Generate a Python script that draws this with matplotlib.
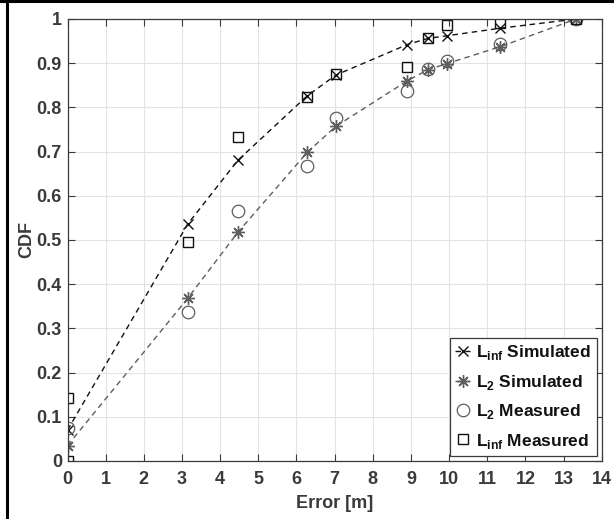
import matplotlib

matplotlib.use("Agg")
import matplotlib.pyplot as plt
from matplotlib.lines import Line2D

plt.rcParams["font.family"] = ["Liberation Sans", "DejaVu Sans"]
plt.rcParams["font.weight"] = "bold"
plt.rcParams["mathtext.fontset"] = "custom"
plt.rcParams["mathtext.rm"] = "Liberation Sans:bold"
plt.rcParams["mathtext.bf"] = "Liberation Sans:bold"

# error values (m) at which each CDF was sampled
err_sim = [0, 3.15, 4.46, 6.28, 7.03, 8.90, 9.44, 9.94, 11.33, 13.33]
cdf_linf_sim = [0.070, 0.536, 0.680, 0.826, 0.873, 0.942, 0.956, 0.962, 0.979, 1.0]
cdf_l2_sim = [0.035, 0.368, 0.517, 0.698, 0.757, 0.860, 0.885, 0.899, 0.937, 1.0]

err_l2_meas = [0, 3.15, 4.46, 6.28, 7.03, 8.90, 9.44, 9.94, 11.33, 13.33]
cdf_l2_meas = [0.075, 0.336, 0.566, 0.667, 0.775, 0.836, 0.886, 0.906, 0.943, 1.0]

err_linf_meas = [0, 0, 3.15, 4.46, 6.28, 7.03, 8.90, 9.44, 9.94, 11.33, 13.33]
cdf_linf_meas = [0.0, 0.142, 0.495, 0.732, 0.824, 0.875, 0.892, 0.956, 0.986, 0.992, 1.0]

x_ticks = list(range(0, 15))
y_ticks = [0, 0.1, 0.2, 0.3, 0.4, 0.5, 0.6, 0.7, 0.8, 0.9, 1]
y_tick_labels = ["0", "0.1", "0.2", "0.3", "0.4", "0.5", "0.6", "0.7", "0.8", "0.9", "1"]

DARK = "#111111"
GRAY = "#5e5e5e"
AXIS = "#3a3a3a"
ASTERISK = (8, 2, 0)  # plus and cross overlaid

fig = plt.figure(figsize=(6.14, 5.19), dpi=100)
ax = fig.add_axes([0.110, 0.1118, 0.870, 0.8516])

ax.plot(err_sim, cdf_linf_sim, linestyle="--", dashes=(4, 3), color=DARK,
        linewidth=1.0, marker="x", markersize=7, markeredgewidth=1.0,
        label=r"L$_{\mathbf{inf}}$ Simulated")
ax.plot(err_sim, cdf_l2_sim, linestyle="--", dashes=(4, 3), color=GRAY,
        linewidth=1.0, marker=ASTERISK, markersize=9, markeredgewidth=1.0,
        label=r"L$_{\mathbf{2}}$ Simulated")
ax.plot(err_l2_meas, cdf_l2_meas, linestyle="none", marker="o", markersize=9,
        markerfacecolor="none", markeredgecolor=GRAY, markeredgewidth=0.9,
        label=r"L$_{\mathbf{2}}$ Measured")
ax.plot(err_linf_meas, cdf_linf_meas, linestyle="none", marker="s",
        markersize=7, markerfacecolor="none", markeredgecolor=DARK,
        markeredgewidth=1.0, label=r"L$_{\mathbf{inf}}$ Measured")

ax.set_xlim(0, 14)
ax.set_ylim(0, 1)
ax.set_xticks(x_ticks)
ax.set_yticks(y_ticks)
ax.set_yticklabels(y_tick_labels)
ax.tick_params(direction="in", top=True, right=True, length=5, width=0.8,
               colors=AXIS, labelsize=13)
ax.tick_params(axis="x", pad=7)
ax.tick_params(axis="y", pad=4)
for lbl in ax.get_xticklabels() + ax.get_yticklabels():
    lbl.set_fontweight("bold")
for sp in ax.spines.values():
    sp.set_color(AXIS)
    sp.set_linewidth(0.9)
ax.grid(True, color="#e3e3e3", linewidth=0.8)
ax.set_axisbelow(True)

ax.set_xlabel("Error [m]", fontsize=13, fontweight="bold", color=AXIS, labelpad=5)
ax.set_ylabel("CDF", fontsize=13, fontweight="bold", color=AXIS, labelpad=1)

leg = ax.legend(loc="lower right", fontsize=12.5, handlelength=0.9,
                handletextpad=0.35, labelspacing=0.6, borderpad=0.3,
                borderaxespad=0.3, fancybox=False, framealpha=1)
leg.get_frame().set_edgecolor(AXIS)
leg.get_frame().set_linewidth(0.9)
for txt in leg.get_texts():
    txt.set_color("#111111")

# outer frame along the left and top edges
fig.add_artist(Line2D([0.0115, 0.0115], [0, 1], transform=fig.transFigure,
                      color="black", linewidth=2.2))
fig.add_artist(Line2D([0, 1], [0.9975, 0.9975], transform=fig.transFigure,
                      color="black", linewidth=2.2))

fig.savefig("out.png", dpi=100)
